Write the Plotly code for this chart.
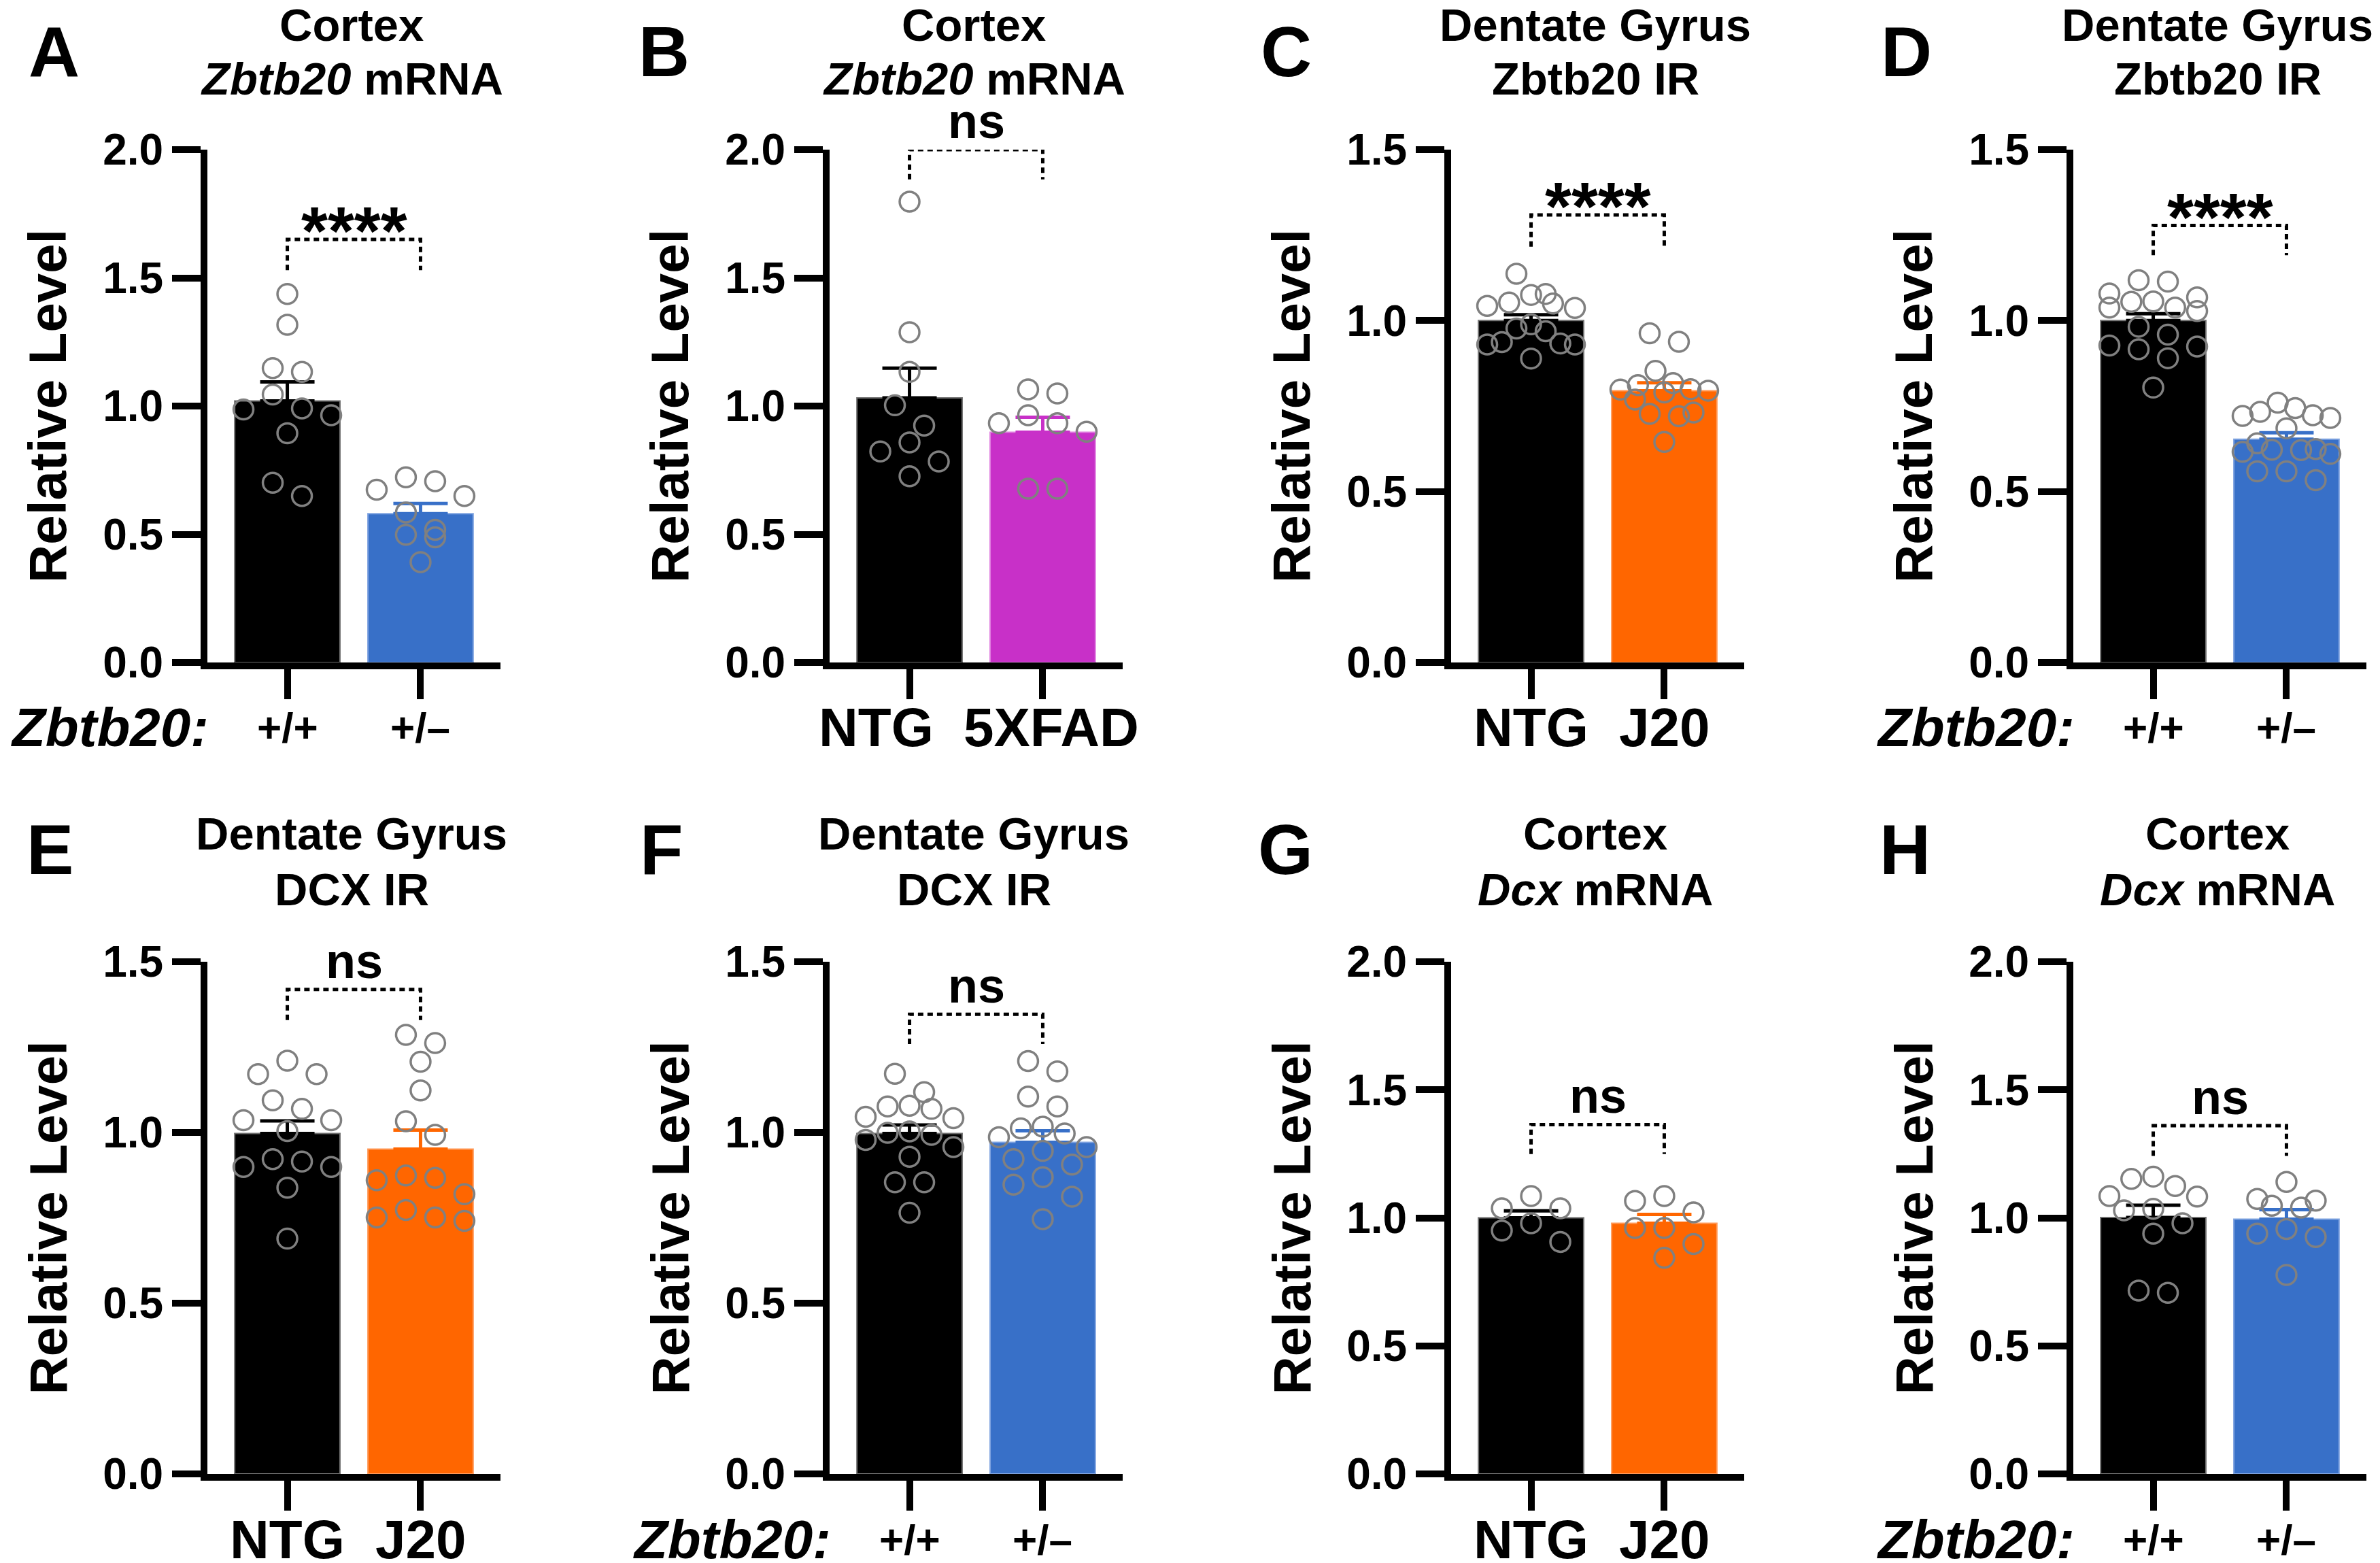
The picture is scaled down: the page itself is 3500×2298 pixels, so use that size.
import plotly.graph_objects as go

# ---------------- data ----------------
panel_letters = ["A", "B", "C", "D", "E", "F", "G", "H"]
title_line1 = ["Cortex", "Cortex", "Dentate Gyrus", "Dentate Gyrus",
               "Dentate Gyrus", "Dentate Gyrus", "Cortex", "Cortex"]
title_line2 = ["<i>Zbtb20</i> mRNA", "<i>Zbtb20</i> mRNA", "Zbtb20 IR", "Zbtb20 IR",
               "DCX IR", "DCX IR", "<i>Dcx</i> mRNA", "<i>Dcx</i> mRNA"]
group_labels = [["+/+", "+/–"], ["NTG", "5XFAD"], ["NTG", "J20"], ["+/+", "+/–"],
                ["NTG", "J20"], ["+/+", "+/–"], ["NTG", "J20"], ["+/+", "+/–"]]
genotype_prefix = ["Zbtb20:", "", "", "Zbtb20:", "", "Zbtb20:", "", "Zbtb20:"]
y_max = [2.0, 2.0, 1.5, 1.5, 1.5, 1.5, 2.0, 2.0]

bar_means = [[1.02, 0.58], [1.032, 0.898], [1.0, 0.795], [1.0, 0.653],
             [0.997, 0.951], [0.997, 0.971], [1.0, 0.979], [1.001, 0.995]]
bar_sems = [[0.074, 0.04], [0.116, 0.058], [0.017, 0.023], [0.02, 0.019],
            [0.037, 0.056], [0.025, 0.034], [0.027, 0.034], [0.048, 0.037]]

points_ctrl = [
    [1.437, 1.317, 1.148, 1.133, 1.045, 0.991, 0.987, 0.964, 0.894, 0.701, 0.649],
    [1.797, 1.288, 1.133, 1.003, 0.924, 0.858, 0.823, 0.784, 0.726],
    [1.137, 1.078, 1.075, 1.053, 1.05, 1.043, 1.037, 0.989, 0.977, 0.969, 0.937, 0.933, 0.93, 0.93, 0.889],
    [1.118, 1.114, 1.079, 1.068, 1.056, 1.055, 1.038, 1.038, 1.028, 0.982, 0.959, 0.927, 0.924, 0.916, 0.89, 0.804],
    [1.21, 1.171, 1.171, 1.094, 1.069, 1.036, 1.036, 1.004, 0.922, 0.915, 0.899, 0.899, 0.838, 0.689],
    [1.172, 1.118, 1.078, 1.076, 1.069, 1.046, 1.042, 1.003, 0.999, 0.993, 0.978, 0.957, 0.929, 0.854, 0.854, 0.765],
    [1.085, 1.037, 1.037, 0.979, 0.95, 0.906],
    [1.161, 1.152, 1.124, 1.085, 1.083, 1.035, 1.029, 0.979, 0.938, 0.716, 0.707],
]
points_exp = [
    [0.722, 0.707, 0.674, 0.649, 0.585, 0.517, 0.498, 0.488, 0.391],
    [1.065, 1.049, 0.964, 0.933, 0.933, 0.900, 0.678, 0.678],
    [0.963, 0.938, 0.853, 0.817, 0.811, 0.799, 0.798, 0.795, 0.79, 0.769, 0.731, 0.727, 0.72, 0.645],
    [0.76, 0.744, 0.733, 0.723, 0.721, 0.715, 0.685, 0.641, 0.624, 0.622, 0.621, 0.616, 0.61, 0.559, 0.559, 0.533],
    [1.286, 1.262, 1.207, 1.123, 1.033, 0.993, 0.874, 0.867, 0.86, 0.819, 0.773, 0.751, 0.751, 0.741],
    [1.209, 1.179, 1.105, 1.076, 1.017, 1.012, 0.997, 0.986, 0.957, 0.946, 0.922, 0.906, 0.869, 0.847, 0.812, 0.746],
    [1.085, 1.066, 1.021, 0.96, 0.96, 0.898, 0.844],
    [1.14, 1.074, 1.067, 1.047, 1.04, 0.956, 0.938, 0.925, 0.777],
]
significance = ["****", "ns", "****", "****", "ns", "ns", "ns", "ns"]
bracket_top = [1.65, 2.0, 1.309, 1.278, 1.419, 1.346, 1.364, 1.36]
bracket_leg = [1.53, 1.884, 1.216, 1.191, 1.329, 1.259, 1.249, 1.242]

# ---------------- styles / layout ----------------
W, H = 3500, 2298
FONT = "Liberation Sans, Arial, Helvetica, sans-serif"
BLUE, MAGENTA, ORANGE = "#3870C8", "#C830C8", "#FF6600"
exp_colors = [BLUE, MAGENTA, ORANGE, BLUE, ORANGE, BLUE, ORANGE, BLUE]
exp_edge = {BLUE: "#7FA3E0", MAGENTA: "#E07FE0", ORANGE: "#FF9A5A"}
POINT_GRAY = "#808080"

col_axis_px = [297, 1212, 2126, 3041]
axis_len_px = 431
row_top_px = [212, 1406]
row_bot_px = [966, 2159]
x_range = [-0.6, 1.6]
bar_width = 0.79
letter_x_px = [71, 968, 1883, 2795, 65, 965, 1882, 2793]
letter_y_px = [68, 1241]
title_y_px = [(29, 107), (1217, 1299)]
xlabel_y_px = [1061, 2255]
label_xshift = {1: [-49, 13]}


def px_x(x):
    return x / W


def px_y(y):
    return 1 - y / H


def swarm_offsets(values, ppu_y, ppu_x, row_gap=31, spacing=43, max_half=64.5):
    idx = sorted(range(len(values)), key=lambda k: -values[k])
    rows = []
    for k in idx:
        if rows and (values[rows[-1][0]] - values[k]) * ppu_y <= row_gap:
            rows[-1].append(k)
        else:
            rows.append([k])
    offs = [0.0] * len(values)
    for row in rows:
        n = len(row)
        s = spacing
        if n > 1 and (n - 1) / 2 * s > max_half:
            s = 2 * max_half / (n - 1)
        slots = [(j - (n - 1) / 2) * s for j in range(n)]
        slots.sort(key=lambda v: (abs(v), v))
        for k, sl in zip(row, slots):
            offs[k] = sl / ppu_x
    return offs


fig = go.Figure()
annotations = []
layout_axes = {}

for i in range(8):
    r, c = divmod(i, 4)
    xn = "x" if i == 0 else f"x{i+1}"
    yn = "y" if i == 0 else f"y{i+1}"
    xkey = "xaxis" if i == 0 else f"xaxis{i+1}"
    ykey = "yaxis" if i == 0 else f"yaxis{i+1}"
    ax_px = col_axis_px[c]
    top, bot = row_top_px[r], row_bot_px[r]
    ppu_y = (bot - top) / y_max[i]
    ppu_x = axis_len_px / (x_range[1] - x_range[0])

    colors = ["#000000", exp_colors[i]]
    edges = ["#6E6E6E", exp_edge[exp_colors[i]]]
    # bars with SEM (upward only)
    for g in range(2):
        fig.add_trace(go.Bar(
            x=[g], y=[bar_means[i][g]], width=bar_width,
            marker=dict(color=colors[g], line=dict(color=edges[g], width=2)),
            error_y=dict(type="data", symmetric=False, array=[bar_sems[i][g]],
                         arrayminus=[0], color=colors[g], thickness=5, width=40),
            xaxis=xn, yaxis=yn, showlegend=False, hoverinfo="skip"))
    # individual points
    for g, pts in enumerate([points_ctrl[i], points_exp[i]]):
        offs = swarm_offsets(pts, ppu_y, ppu_x)
        fig.add_trace(go.Scatter(
            x=[g + o for o in offs], y=pts, mode="markers",
            marker=dict(symbol="circle-open", size=29, color=POINT_GRAY,
                        line=dict(color=POINT_GRAY, width=3.5)),
            xaxis=xn, yaxis=yn, showlegend=False, cliponaxis=False, hoverinfo="skip"))
    # significance bracket
    fig.add_trace(go.Scatter(
        x=[0, 0, 1, 1], y=[bracket_leg[i], bracket_top[i], bracket_top[i], bracket_leg[i]],
        mode="lines", line=dict(color="black", width=5, dash="8px,6px"),
        xaxis=xn, yaxis=yn, showlegend=False, cliponaxis=False, hoverinfo="skip"))
    if significance[i] == "ns":
        annotations.append(dict(text="ns", x=0.5, y=bracket_top[i], xref=xn, yref=yn,
                                xanchor="center", yanchor="bottom", yshift=0, showarrow=False,
                                font=dict(family=FONT, size=72, color="black", weight="bold")))
    else:
        annotations.append(dict(text=significance[i], x=0.5, y=bracket_top[i], xref=xn, yref=yn,
                                xanchor="center", yanchor="bottom", yshift=-45, showarrow=False,
                                font=dict(family=FONT, size=100, color="black", weight="bold")))

    layout_axes[xkey] = dict(
        domain=[px_x(ax_px), px_x(ax_px + axis_len_px)], anchor=yn, range=x_range,
        showline=True, linecolor="black", linewidth=10, showgrid=False, zeroline=False,
        ticks="outside", ticklen=44, tickwidth=10, tickcolor="black",
        tickvals=[0, 1], showticklabels=False, automargin=False, fixedrange=True)
    layout_axes[ykey] = dict(
        domain=[px_y(bot), px_y(top)], anchor=xn, range=[0, y_max[i]],
        showline=True, linecolor="black", linewidth=10, showgrid=False, zeroline=False,
        ticks="outside", ticklen=42, tickwidth=10, tickcolor="black",
        dtick=0.5, tick0=0, tickformat=".1f", automargin=False,
        tickfont=dict(family=FONT, size=64, color="black", weight="bold"),
        fixedrange=True)

    # group labels under the x axis
    big_labels = group_labels[i][0] == "NTG"
    shifts = label_xshift.get(i, [0, 0])
    for g in range(2):
        annotations.append(dict(text=group_labels[i][g], x=g, y=px_y(xlabel_y_px[r]),
                                xref=xn, yref="paper", xanchor="center", yanchor="middle",
                                xshift=shifts[g], showarrow=False,
                                font=dict(family=FONT, size=80 if big_labels else 62,
                                          color="black", weight="bold")))
    # panel letter
    annotations.append(dict(text=panel_letters[i], x=px_x(letter_x_px[i]), y=px_y(letter_y_px[r]),
                            xref="paper", yref="paper", xanchor="center", yanchor="middle",
                            showarrow=False,
                            font=dict(family=FONT, size=104, color="black", weight="bold")))
    # two-line title
    tx = ax_px + 212
    for line_txt, ly in zip([title_line1[i], title_line2[i]], title_y_px[r]):
        annotations.append(dict(text=line_txt, x=px_x(tx), y=px_y(ly), xref="paper", yref="paper",
                                xanchor="center", yanchor="middle", showarrow=False,
                                font=dict(family=FONT, size=67, color="black", weight="bold")))
    # y-axis title
    annotations.append(dict(text="Relative Level", x=px_x(ax_px - 235), y=px_y((top + bot) / 2),
                            xref="paper", yref="paper", xanchor="center", yanchor="middle",
                            textangle=-90, showarrow=False,
                            font=dict(family=FONT, size=78, color="black", weight="bold")))
    # genotype prefix
    if genotype_prefix[i]:
        annotations.append(dict(text=f"<i>{genotype_prefix[i]}</i>", x=px_x(ax_px + 4),
                                y=px_y(xlabel_y_px[r]), xref="paper", yref="paper",
                                xanchor="right", yanchor="middle", showarrow=False,
                                font=dict(family=FONT, size=80, color="black", weight="bold")))

fig.update_layout(
    width=W, height=H, margin=dict(l=0, r=0, t=0, b=0, autoexpand=False),
    paper_bgcolor="white", plot_bgcolor="white", barmode="overlay",
    showlegend=False, annotations=annotations, **layout_axes)

fig.write_html("out.html")
